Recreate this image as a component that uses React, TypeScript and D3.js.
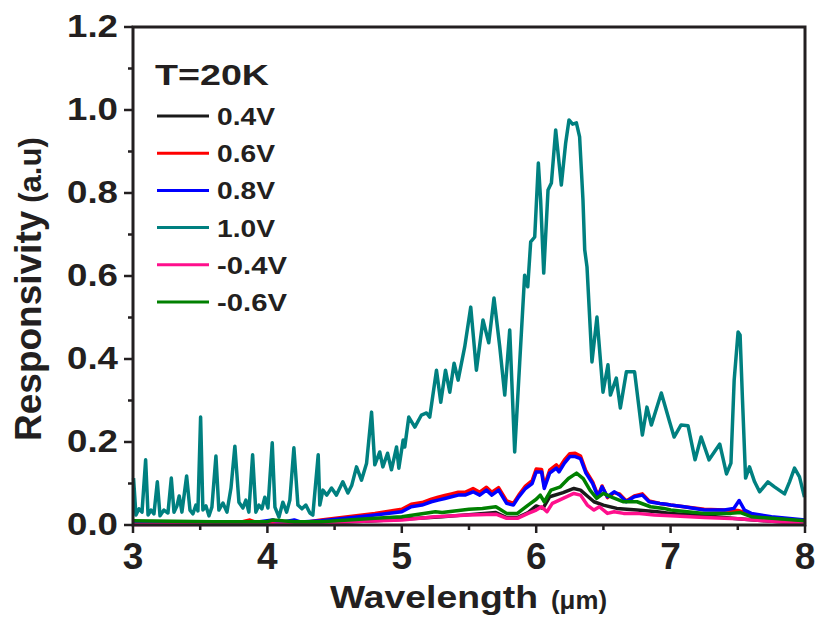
import React from "react";
import * as d3 from "d3";

// wavelength (um), responsivity (a.u)
const v04: [number, number][] = [
  [3.0, 0.003], [3.5, 0.003], [4.0, 0.004], [4.4, 0.005], [4.8, 0.01], [5.0, 0.014],
  [5.3, 0.02], [5.5, 0.025], [5.7, 0.03], [5.78, 0.018], [5.86, 0.018], [5.94, 0.03],
  [6.0, 0.046], [6.05, 0.04], [6.1, 0.068], [6.2, 0.078], [6.28, 0.088], [6.33, 0.084],
  [6.38, 0.07], [6.43, 0.056], [6.5, 0.048], [6.6, 0.04], [6.75, 0.036], [6.9, 0.032],
  [7.0, 0.028], [7.25, 0.022], [7.5, 0.015], [7.7, 0.01], [8.0, 0.004],
];

const v06: [number, number][] = [
  [3.0, 0.004], [3.5, 0.005], [3.8, 0.007], [3.87, 0.012], [3.92, 0.006], [4.3, 0.007],
  [4.4, 0.012], [4.6, 0.02], [4.8, 0.028], [5.0, 0.038], [5.07, 0.05], [5.15, 0.054],
  [5.22, 0.062], [5.27, 0.067], [5.32, 0.071], [5.37, 0.075], [5.42, 0.079], [5.47, 0.079],
  [5.53, 0.088], [5.58, 0.079], [5.63, 0.091], [5.67, 0.079], [5.72, 0.09], [5.78, 0.058],
  [5.83, 0.052], [5.87, 0.072], [5.92, 0.094], [5.97, 0.107], [6.0, 0.135], [6.04, 0.134],
  [6.06, 0.094], [6.1, 0.132], [6.15, 0.145], [6.17, 0.137], [6.21, 0.157], [6.25, 0.172],
  [6.29, 0.173], [6.33, 0.166], [6.37, 0.13], [6.42, 0.104], [6.46, 0.07], [6.49, 0.094],
  [6.53, 0.066], [6.58, 0.078], [6.62, 0.075], [6.67, 0.058], [6.73, 0.07], [6.79, 0.075],
  [6.84, 0.058], [6.92, 0.052], [7.0, 0.048], [7.1, 0.044], [7.25, 0.038], [7.4, 0.036],
  [7.5, 0.035], [7.6, 0.026], [7.75, 0.018], [8.0, 0.01],
];

const v08: [number, number][] = [
  [3.0, 0.004], [3.5, 0.005], [3.9, 0.006], [4.04, 0.012], [4.1, 0.006], [4.2, 0.012],
  [4.25, 0.007], [4.4, 0.01], [4.6, 0.017], [4.8, 0.024], [5.0, 0.032], [5.07, 0.044],
  [5.15, 0.048], [5.22, 0.056], [5.27, 0.06], [5.32, 0.064], [5.37, 0.068], [5.42, 0.072],
  [5.47, 0.072], [5.53, 0.08], [5.58, 0.072], [5.63, 0.084], [5.67, 0.072], [5.72, 0.084],
  [5.78, 0.052], [5.83, 0.048], [5.87, 0.068], [5.92, 0.088], [5.97, 0.1], [6.0, 0.128],
  [6.04, 0.128], [6.06, 0.088], [6.1, 0.125], [6.15, 0.137], [6.17, 0.128], [6.21, 0.149],
  [6.25, 0.165], [6.29, 0.165], [6.33, 0.16], [6.37, 0.125], [6.42, 0.1], [6.46, 0.068],
  [6.49, 0.092], [6.53, 0.068], [6.58, 0.08], [6.62, 0.072], [6.67, 0.056], [6.73, 0.068],
  [6.79, 0.072], [6.84, 0.056], [6.92, 0.052], [6.97, 0.05], [7.0, 0.048], [7.1, 0.044],
  [7.25, 0.036], [7.4, 0.036], [7.47, 0.04], [7.51, 0.059], [7.55, 0.036], [7.6, 0.028],
  [7.75, 0.02], [8.0, 0.012],
];

const v10: [number, number][] = [
  [3.004, 0.113], [3.022, 0.024], [3.045, 0.039], [3.067, 0.031], [3.094, 0.157], [3.112, 0.024],
  [3.134, 0.036], [3.156, 0.027], [3.181, 0.104], [3.201, 0.022], [3.23, 0.036], [3.26, 0.029],
  [3.285, 0.113], [3.305, 0.031], [3.327, 0.046], [3.344, 0.07], [3.364, 0.031], [3.399, 0.118],
  [3.424, 0.036], [3.446, 0.027], [3.468, 0.048], [3.483, 0.034], [3.503, 0.26], [3.52, 0.036],
  [3.543, 0.046], [3.565, 0.022], [3.587, 0.043], [3.617, 0.166], [3.639, 0.036], [3.669, 0.053],
  [3.699, 0.031], [3.729, 0.089], [3.758, 0.19], [3.788, 0.055], [3.818, 0.041], [3.84, 0.06],
  [3.862, 0.031], [3.89, 0.169], [3.914, 0.031], [3.937, 0.048], [3.959, 0.039], [3.981, 0.067],
  [4.004, 0.041], [4.036, 0.198], [4.056, 0.043], [4.086, 0.019], [4.115, 0.055], [4.143, 0.031],
  [4.167, 0.06], [4.197, 0.186], [4.227, 0.048], [4.257, 0.039], [4.286, 0.048], [4.316, 0.029],
  [4.338, 0.024], [4.378, 0.169], [4.39, 0.048], [4.413, 0.084], [4.442, 0.072], [4.477, 0.089],
  [4.514, 0.072], [4.561, 0.104], [4.599, 0.077], [4.628, 0.096], [4.663, 0.14], [4.7, 0.108],
  [4.738, 0.149], [4.775, 0.272], [4.799, 0.145], [4.836, 0.176], [4.859, 0.14], [4.894, 0.173],
  [4.923, 0.133], [4.961, 0.188], [4.978, 0.137], [5.01, 0.205], [5.022, 0.188], [5.052, 0.26],
  [5.097, 0.236], [5.146, 0.265], [5.184, 0.27], [5.208, 0.26], [5.258, 0.373], [5.29, 0.296],
  [5.325, 0.373], [5.357, 0.32], [5.389, 0.39], [5.419, 0.349], [5.468, 0.429], [5.513, 0.525],
  [5.555, 0.373], [5.604, 0.494], [5.647, 0.439], [5.686, 0.547], [5.729, 0.429], [5.766, 0.313],
  [5.803, 0.47], [5.84, 0.176], [5.877, 0.39], [5.914, 0.602], [5.937, 0.574], [5.959, 0.682],
  [5.989, 0.694], [6.016, 0.872], [6.033, 0.783], [6.056, 0.607], [6.088, 0.807], [6.113, 0.824],
  [6.145, 0.952], [6.187, 0.819], [6.219, 0.92], [6.244, 0.976], [6.271, 0.966], [6.299, 0.969],
  [6.323, 0.935], [6.348, 0.783], [6.361, 0.663], [6.378, 0.622], [6.415, 0.393], [6.452, 0.501],
  [6.497, 0.32], [6.534, 0.386], [6.552, 0.313], [6.596, 0.354], [6.626, 0.282], [6.671, 0.369],
  [6.732, 0.369], [6.79, 0.217], [6.824, 0.284], [6.857, 0.241], [6.931, 0.318], [6.993, 0.248],
  [7.026, 0.212], [7.078, 0.241], [7.13, 0.239], [7.182, 0.157], [7.227, 0.212], [7.286, 0.157],
  [7.366, 0.195], [7.416, 0.123], [7.449, 0.149], [7.473, 0.349], [7.502, 0.465], [7.517, 0.458],
  [7.535, 0.301], [7.558, 0.113], [7.587, 0.14], [7.625, 0.104], [7.662, 0.08], [7.724, 0.104],
  [7.773, 0.092], [7.848, 0.075], [7.885, 0.104], [7.922, 0.137], [7.959, 0.116], [7.996, 0.067],
];

const vm04: [number, number][] = [
  [3.0, 0.001], [4.0, 0.002], [4.4, 0.004], [4.6, 0.008], [5.0, 0.012], [5.25, 0.02],
  [5.5, 0.024], [5.7, 0.026], [5.78, 0.016], [5.86, 0.016], [5.94, 0.028], [6.0, 0.036],
  [6.04, 0.044], [6.08, 0.032], [6.12, 0.052], [6.2, 0.064], [6.28, 0.076], [6.33, 0.072],
  [6.38, 0.048], [6.43, 0.036], [6.47, 0.044], [6.53, 0.028], [6.58, 0.032], [6.65, 0.028],
  [6.75, 0.028], [6.88, 0.024], [7.0, 0.022], [7.25, 0.018], [7.5, 0.015], [7.7, 0.01],
  [8.0, 0.003],
];

const vm06: [number, number][] = [
  [3.0, 0.01], [3.3, 0.009], [3.6, 0.008], [4.0, 0.008], [4.04, 0.012], [4.2, 0.008],
  [4.4, 0.008], [4.6, 0.012], [4.8, 0.016], [5.0, 0.02], [5.25, 0.032], [5.3, 0.03],
  [5.5, 0.038], [5.6, 0.04], [5.7, 0.044], [5.78, 0.028], [5.86, 0.028], [5.94, 0.048],
  [6.0, 0.062], [6.03, 0.072], [6.06, 0.056], [6.11, 0.084], [6.18, 0.092], [6.24, 0.112],
  [6.3, 0.125], [6.35, 0.112], [6.4, 0.084], [6.45, 0.064], [6.5, 0.076], [6.57, 0.066],
  [6.65, 0.056], [6.75, 0.056], [6.85, 0.044], [6.95, 0.04], [7.0, 0.036], [7.25, 0.028],
  [7.45, 0.028], [7.52, 0.03], [7.6, 0.02], [8.0, 0.01],
];

const legendNames = ["0.4V", "0.6V", "0.8V", "1.0V", "-0.4V", "-0.6V"];
const colors = ["#1a1a1a", "#ff0000", "#0000ff", "#008080", "#ff0f8c", "#008000"];
const allData = [v04, v06, v08, v10, vm04, vm06];

const xTicks = [3, 4, 5, 6, 7, 8];
const xMinor = [3.5, 4.5, 5.5, 6.5, 7.5];
const yTicks = [0, 0.2, 0.4, 0.6, 0.8, 1.0, 1.2];
const yMinor = [0.1, 0.3, 0.5, 0.7, 0.9, 1.1];

const ink = "#231f20";
const font = "'Liberation Sans', Arial, sans-serif";

export default function App() {
  const x = d3.scaleLinear().domain([3, 8]).range([133, 805]);
  const y = d3.scaleLinear().domain([0, 1.2]).range([525, 27]);
  const line = d3
    .line<[number, number]>()
    .x((d) => x(d[0]))
    .y((d) => y(d[1]));

  return (
    <svg width={817} height={624} style={{ position: "absolute", left: 0, top: 0 }} fontFamily={font} fontWeight="bold">
      <rect width={817} height={624} fill="#fff" />

      {allData.map((d, i) => (
        <path key={i} d={line(d) || ""} fill="none" stroke={colors[i]} strokeWidth={3.5} strokeLinejoin="round" />
      ))}

      {/* frame */}
      <rect x={133} y={27} width={672} height={498} fill="none" stroke={ink} strokeWidth={3} />

      {/* y ticks */}
      {yTicks.map((t) => (
        <g key={"y" + t}>
          <line x1={124} x2={133} y1={y(t)} y2={y(t)} stroke={ink} strokeWidth={2.5} />
          <text x={118} y={y(t) + 10} textAnchor="end" fontSize={31} fill={ink} textLength={51} lengthAdjust="spacingAndGlyphs">
            {t.toFixed(1)}
          </text>
        </g>
      ))}
      {yMinor.map((t) => (
        <line key={"ym" + t} x1={128} x2={133} y1={y(t)} y2={y(t)} stroke={ink} strokeWidth={2.5} />
      ))}

      {/* x ticks */}
      {xTicks.map((t) => (
        <g key={"x" + t}>
          <line x1={x(t)} x2={x(t)} y1={525} y2={533} stroke={ink} strokeWidth={2.5} />
          <text x={x(t)} y={569} textAnchor="middle" fontSize={37} fill={ink}>
            {t}
          </text>
        </g>
      ))}
      {xMinor.map((t) => (
        <line key={"xm" + t} x1={x(t)} x2={x(t)} y1={525} y2={530} stroke={ink} strokeWidth={2.5} />
      ))}

      {/* axis titles */}
      <text x={330} y={608} fontSize={32} fill={ink} textLength={208} lengthAdjust="spacingAndGlyphs">
        Wavelength
      </text>
      <text x={551} y={609} fontSize={26} fill={ink} textLength={56} lengthAdjust="spacingAndGlyphs">
        (μm)
      </text>
      <text transform="translate(41,441) rotate(-90)" fontSize={37} fill={ink}>
        Responsivity
        <tspan fontSize={31} dx={8}>(a.u)</tspan>
      </text>

      {/* legend */}
      <text x={155} y={85} fontSize={30} fill={ink} textLength={114} lengthAdjust="spacingAndGlyphs">
        T=20K
      </text>
      {legendNames.map((n, i) => {
        const ly = 116 + i * 37.2;
        return (
          <g key={n}>
            <line x1={157} x2={209} y1={ly} y2={ly} stroke={colors[i]} strokeWidth={3} />
            <text x={217} y={ly + 9} fontSize={24} fill={ink} textLength={n.length > 4 ? 70 : 58} lengthAdjust="spacingAndGlyphs">
              {n}
            </text>
          </g>
        );
      })}
    </svg>
  );
}
